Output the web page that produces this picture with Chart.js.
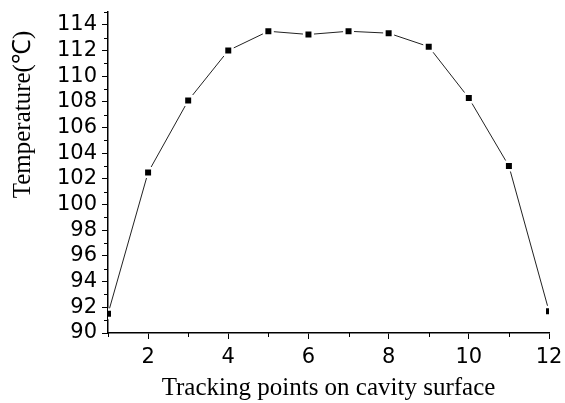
<!DOCTYPE html>
<html>
<head>
<meta charset="utf-8">
<script src="https://cdn.jsdelivr.net/npm/chart.js@4/dist/chart.umd.min.js"></script>
<style>
  html, body { margin: 0; padding: 0; background: #fff; }
  #wrap { width: 565px; height: 403px; }
</style>
</head>
<body>
<div id="wrap"><canvas id="tempChart" width="565" height="403"></canvas></div>
<script>
// tracking point index vs. temperature
const trackingPoints = [1, 2, 3, 4, 5, 6, 7, 8, 9, 10, 11, 12];
const temperatures = [91.5, 102.5, 108.1, 112.0, 113.5, 113.25, 113.5, 113.35, 112.3, 108.3, 103.0, 91.7];

const xRange = [1, 12];
const yRange = [90, 115];

// minor ticks (odd values) drawn shorter than the labelled ones
const minorTicks = {
  id: 'minorTicks',
  afterDraw(chart) {
    const c = chart.ctx;
    const { x, y } = chart.scales;
    c.save();
    c.strokeStyle = '#000';
    c.lineWidth = 1;
    c.beginPath();
    for (let v = xRange[0]; v <= xRange[1]; v++) {
      if (v % 2 === 0) continue;
      const px = Math.round(x.getPixelForValue(v)) + 0.5;
      c.moveTo(px, x.top); c.lineTo(px, x.top + 4);
    }
    for (let v = yRange[0]; v <= yRange[1]; v++) {
      if (v % 2 === 0) continue;
      const py = Math.round(y.getPixelForValue(v)) + 0.5;
      c.moveTo(y.right, py); c.lineTo(y.right - 4, py);
    }
    c.stroke();
    c.restore();
  }
};

const majorColor = (ctx) => (ctx.tick && ctx.tick.value % 2 === 0 ? '#000' : 'rgba(0,0,0,0)');

new Chart(document.getElementById('tempChart').getContext('2d'), {
  type: 'line',
  data: {
    datasets: [{
      data: trackingPoints.map((p, i) => ({ x: p, y: temperatures[i] })),
      borderColor: '#222',
      borderWidth: 1,
      pointStyle: 'rect',
      pointRadius: 6,
      pointBackgroundColor: '#000',
      pointBorderColor: '#fff',
      pointBorderWidth: 2.5,
      tension: 0,
      clip: 0,
    }]
  },
  options: {
    responsive: false,
    animation: false,
    layout: { padding: { top: 12, right: 16, left: 8, bottom: 0 } },
    plugins: { legend: { display: false }, tooltip: { enabled: false } },
    scales: {
      x: {
        type: 'linear',
        min: xRange[0], max: xRange[1],
        afterFit: (s) => { s.height = 70; s.paddingLeft = 0; s.paddingRight = 0; },
        border: { color: '#000', width: 1.5 },
        grid: { drawOnChartArea: false, tickLength: 6, tickColor: majorColor },
        ticks: {
          stepSize: 1, autoSkip: false, maxRotation: 0, padding: 6,
          color: '#000',
          font: { family: 'DejaVu Sans', size: 21 },
          callback: (v) => (v % 2 === 0 ? v : '')
        },
        title: {
          display: true,
          text: 'Tracking points on cavity surface',
          color: '#000',
          font: { family: 'Liberation Serif', size: 25 },
          padding: { top: 5, bottom: 0 }
        }
      },
      y: {
        min: yRange[0], max: yRange[1],
        afterFit: (s) => { s.width = 100; s.paddingTop = 0; s.paddingBottom = 0; },
        border: { color: '#000', width: 1.5 },
        grid: { drawOnChartArea: false, tickLength: 6, tickColor: majorColor },
        ticks: {
          stepSize: 1, autoSkip: false, padding: 5,
          color: '#000',
          font: { family: 'DejaVu Sans', size: 21 },
          callback: (v) => (v % 2 === 0 ? v : '')
        },
        title: {
          display: true,
          align: 'end',
          text: 'Temperature(℃)   ',
          color: '#000',
          font: { family: 'Liberation Serif', size: 25 },
          padding: { top: 0, bottom: 2 }
        }
      }
    }
  },
  plugins: [minorTicks]
});
</script>
</body>
</html>
